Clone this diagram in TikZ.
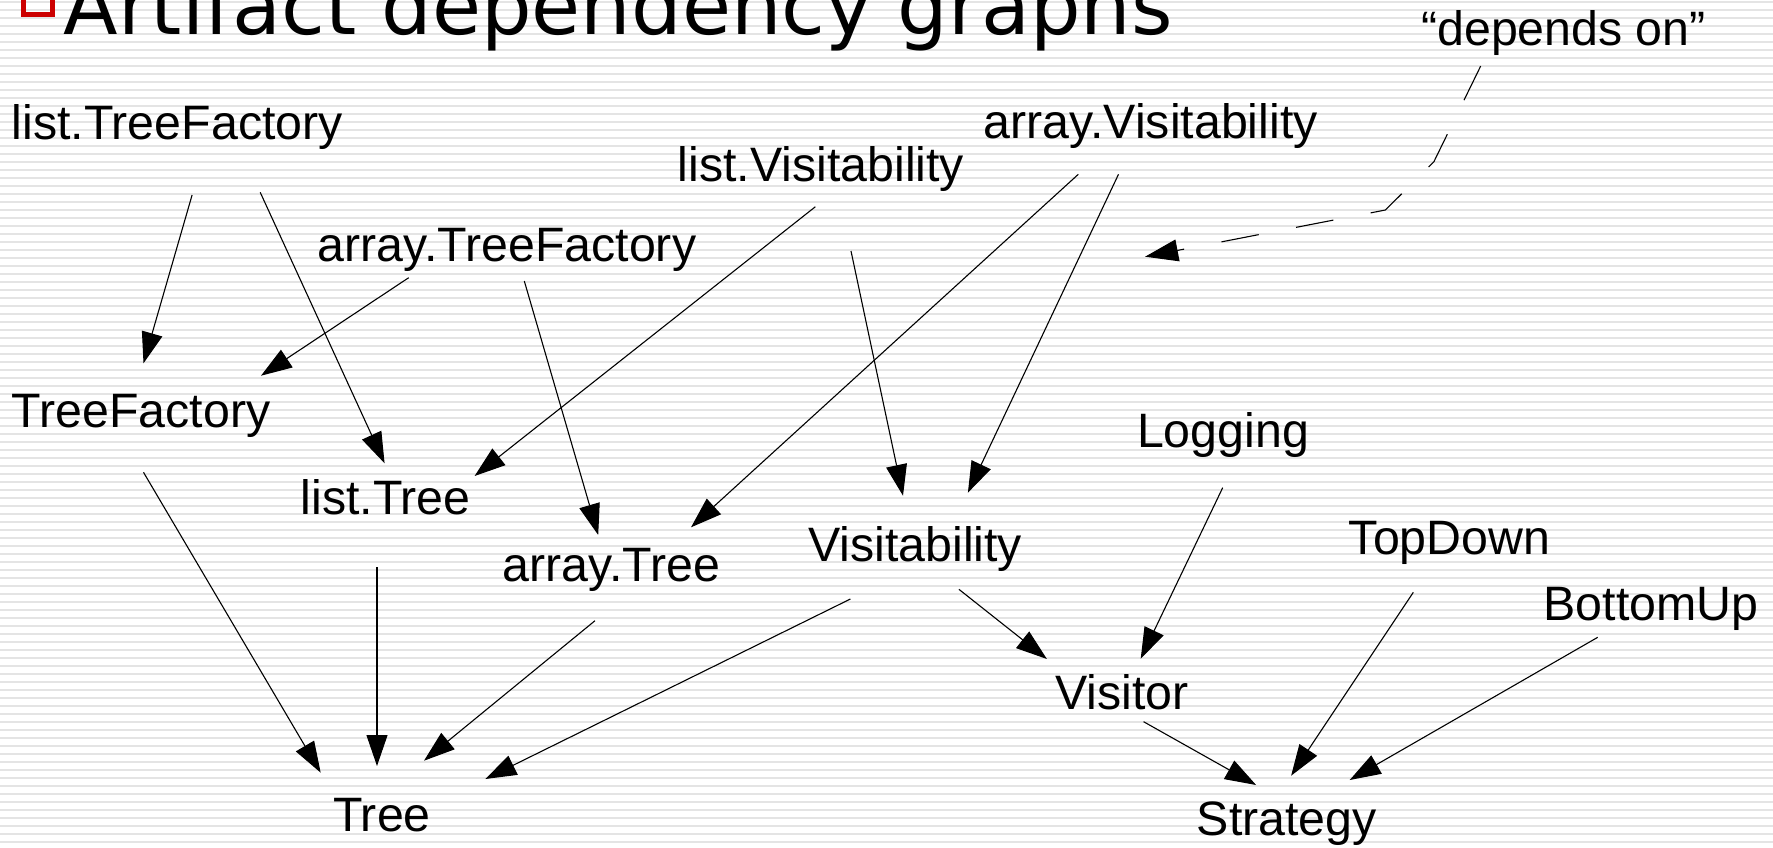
\documentclass[tikz,border=0pt]{standalone}
\usepackage{fontspec}
\setmainfont{Liberation Sans}
\newfontfamily\titlefont{DejaVu Sans}
\usetikzlibrary{arrows.meta}
\definecolor{stripe}{RGB}{228,228,228}
\definecolor{bulletred}{RGB}{204,0,0}
\begin{document}
\begin{tikzpicture}[x=1pt,y=-1pt,
  lab/.style={anchor=base west, inner sep=0pt, font=\fontsize{48.3}{58}\selectfont},
  dep/.style={line width=1.1pt, -{Triangle[length=31pt,width=21pt]}},
  legendarrow/.style={line width=1.1pt, dash pattern=on 38pt off 38pt, -{Triangle[length=33pt,width=22pt]}},
]
\useasboundingbox (0,0) rectangle (1773,847);
\fill[white] (0,0) rectangle (1773,847);
\foreach \i in {0,...,105} \fill[stripe] (0,{\i*8+1}) rectangle (1773,{\i*8+3});

% title
\draw[bulletred, line width=5.3pt] (23.2,-14) rectangle (52.4,14.4);
\node[anchor=base west, inner sep=0pt, font=\titlefont\fontsize{79.7}{90}\selectfont] (title) at (63.5,34.3) {Artifact dependency graphs};

% nodes
\node[lab] (ltf)     at (11.5,139.3)  {list.TreeFactory};
\node[lab] (atf)     at (317.6,261.7) {array.TreeFactory};
\node[lab] (tf)      at (11.5,427.7)  {TreeFactory};
\node[lab] (lvis)    at (677.6,181.7) {list.Visitability};
\node[lab] (avis)    at (983.7,138.3) {array.Visitability};
\node[lab] (ltree)   at (300.4,514.3) {list.Tree};
\node[lab] (atree)   at (502.5,581.7) {array.Tree};
\node[lab] (vis)     at (808,561.7)   {Visitability};
\node[lab] (log)     at (1136.8,447.7){Logging};
\node[lab] (td)      at (1348.6,554)  {TopDown};
\node[lab] (bu)      at (1543.3,620)  {BottomUp};
\node[lab] (visitor) at (1055,709.7)  {Visitor};
\node[lab] (tree)    at (333,831.7)   {Tree};
\node[lab] (strat)   at (1196.6,835)  {Strategy};
\node[lab] (depends) at (1421,45)     {“depends on”};

% edges
\draw[dep] ([shift={(180.6,55.7)}]ltf.base west) -- ([shift={(132,-64.4)}]tf.base west);
\draw[dep] ([shift={(248.7,53)}]ltf.base west) -- ([shift={(84.2,-51)}]ltree.base west);
\draw[dep] ([shift={(91.1,16)}]atf.base west) -- ([shift={(249.5,-52)}]tf.base west);
\draw[dep] ([shift={(206.7,19.3)}]atf.base west) -- ([shift={(95.7,-46.7)}]atree.base west);
\draw[dep] ([shift={(137.8,25)}]lvis.base west) -- ([shift={(174.2,-38.3)}]ltree.base west);
\draw[dep] ([shift={(173.4,69.3)}]lvis.base west) -- ([shift={(95,-66)}]vis.base west);
\draw[dep] ([shift={(94.6,36)}]avis.base west) -- ([shift={(188.5,-54.4)}]atree.base west);
\draw[dep] ([shift={(134.8,36)}]avis.base west) -- ([shift={(159.9,-69)}]vis.base west);
\draw[dep] ([shift={(132,44.6)}]tf.base west) -- ([shift={(-12.3,-59)}]tree.base west);
\draw[dep] ([shift={(76.6,53)}]ltree.base west) -- ([shift={(44,-65.7)}]tree.base west);
\draw[dep] ([shift={(92.5,39)}]atree.base west) -- ([shift={(91,-71)}]tree.base west);
\draw[dep] ([shift={(42.4,37.3)}]vis.base west) -- ([shift={(152.3,-52.7)}]tree.base west);
\draw[dep] ([shift={(150.9,27.6)}]vis.base west) -- ([shift={(-8.1,-50.7)}]visitor.base west);
\draw[dep] ([shift={(85.9,40)}]log.base west) -- ([shift={(85.7,-51)}]visitor.base west);
\draw[dep] ([shift={(88.6,12)}]visitor.base west) -- ([shift={(59.5,-50)}]strat.base west);
\draw[dep] ([shift={(64.7,38.3)}]td.base west) -- ([shift={(94.5,-59.3)}]strat.base west);
\draw[dep] ([shift={(54.4,17.3)}]bu.base west) -- ([shift={(153.1,-55)}]strat.base west);

% legend arrow
\coordinate (lg1) at (1433.9,161.7);
\coordinate (lg2) at (1385.4,210);
\coordinate (lgend) at (1145.1,256.7);
\draw[legendarrow] ([shift={(59.7,21)}]depends.base west) -- (lg1) -- (lg2) -- (lgend);
\end{tikzpicture}
\end{document}
